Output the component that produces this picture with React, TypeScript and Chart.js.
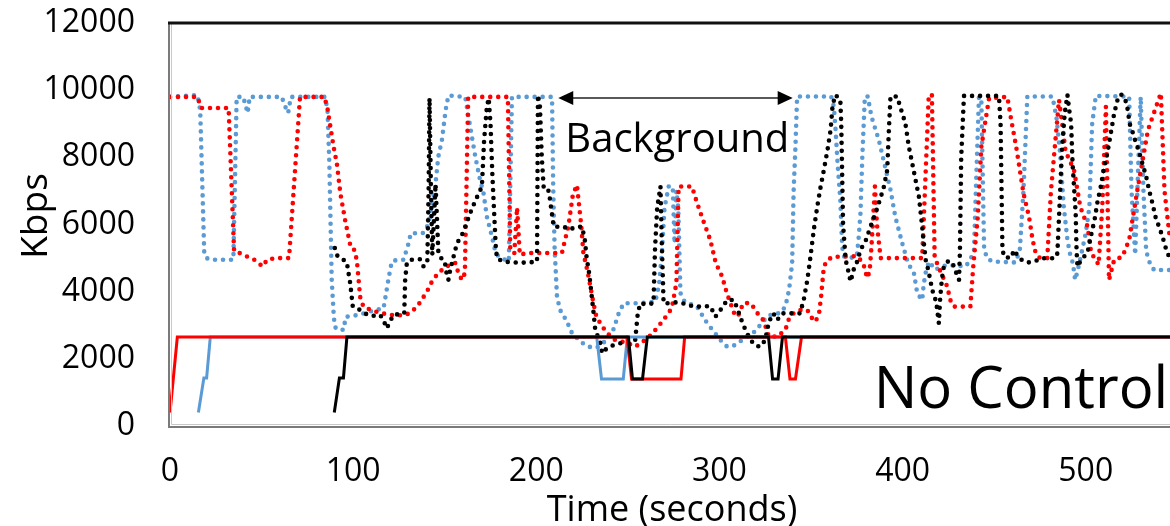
import React, { useEffect, useRef } from "react";
import { Chart, registerables } from "chart.js";

Chart.register(...registerables);

// ---------- data (time in seconds, rate in Kbps) ----------
const xTicksMax = 546;
const yMax = 12000;
const yStep = 2000;
const xStep = 100;

const blueSolid: [number, number][] = [
  [15.5, 400], [18.5, 1430], [20, 1430], [22, 2650], [233, 2650], [235.6, 1400], [247.5, 1400], [249.7, 2650], [546, 2650],
];
const redSolid: [number, number][] = [
  [0, 400], [4, 2650], [249.5, 2650], [252, 1400], [279, 1400], [281, 2650], [336, 2650], [338.5, 1400], [341.5, 1400], [344.8, 2650], [546, 2650],
];
const blackSolid: [number, number][] = [
  [89.7, 400], [92.5, 1430], [94.7, 1430], [96.6, 2650], [250.3, 2650], [252.5, 1400], [258, 1400], [260.6, 2650],
  [326.8, 2650], [329, 1400], [332, 1400], [334.4, 2650], [546, 2650],
];

const blueDotted: [number, number][] = [
  [0, 9800], [15, 9850], [16.5, 9400], [18.7, 5150], [20, 5000], [22, 4950], [34.6, 4950], [36.4, 9800], [40, 9800],
  [41.5, 9500], [42.4, 9320], [43.5, 9800], [61, 9800], [63, 9500], [64.5, 9320], [66, 9800], [84.7, 9800], [86, 9400],
  [87, 7830], [88.3, 4350], [89.5, 3200], [90.5, 2900], [94.7, 2860], [96, 3250], [102, 3300], [106.6, 3365], [112, 3450],
  [116.6, 3505], [118, 3950], [119.5, 4445], [121.1, 4895], [124, 4950], [127.5, 4950], [130, 5390], [131.5, 5740],
  [138, 5740], [141, 6000], [143, 6600], [144.8, 7130], [146.5, 8020], [148.5, 8520], [150.5, 9410], [152, 9840],
  [161.2, 9800], [163, 9200], [164.5, 8720], [166.7, 8020], [169, 7400], [171.2, 6930], [173, 6235], [175.8, 5640],
  [177.6, 5200], [179.4, 5040], [185, 4900], [186.7, 9800], [208.6, 9800], [209.2, 7200], [210, 5300], [211.3, 3850],
  [213, 3455], [216.8, 3105], [219, 2810], [224, 2510], [228.6, 2360], [233, 2330], [237, 2500], [242, 2860],
  [243.5, 3105], [245, 3355], [247.7, 3655], [255, 3655], [261, 3680], [265, 3700], [267, 4200], [268.7, 5240],
  [270, 6500], [272.3, 7130], [274.5, 7130], [275.5, 5440], [276.5, 7000], [277.5, 6500], [278.7, 3960], [281, 3700],
  [287.8, 3555], [290.5, 3305], [293.3, 3060], [297, 2810], [300.5, 2560], [304.2, 2360], [308, 2400], [312.4, 2560],
  [316, 2710], [319, 2800], [322.4, 3010], [326, 3255], [329.7, 3355], [333, 3355], [336, 3555], [338, 4050],
  [339.7, 4845], [340.5, 7000], [341.5, 8320], [342.4, 9810], [361, 9810], [362.5, 9500], [363.4, 8820], [364.5, 7825],
  [366, 6730], [367, 5340], [368, 5050], [370.7, 4995], [375, 5050], [376, 5600], [377, 6335], [378, 8000], [379.4, 9810],
  [381, 9810], [383, 9210], [387, 8520], [390, 7825], [393.4, 7030], [396, 6235], [399.8, 5440], [403, 4845],
  [406.2, 4545], [408, 3950], [410.7, 3750], [411.5, 4200], [412.5, 4545], [414.4, 4895], [418, 4650], [421, 4750],
  [425.3, 4790], [434.4, 4750], [437, 4950], [439, 5240], [440, 7000], [441.7, 9810], [443, 9700], [444.5, 5300],
  [446, 5000], [449, 4895], [461.7, 4870], [464, 5240], [466, 7000], [468.1, 9810], [481.8, 9810], [484, 9200],
  [486, 8120], [488, 6530], [490, 5540], [491.5, 5100], [493, 4845], [494.2, 4350], [495.5, 4600], [497.5, 5100],
  [500, 5740], [502, 6530], [503.5, 9000], [505.5, 9830], [523.7, 9810], [525, 7000], [527, 5100], [528.5, 7500],
  [530, 9800], [531.5, 7000], [533, 5200], [535, 4850], [537.3, 4645], [546, 4645],
];

const redDotted: [number, number][] = [
  [0, 9800], [15, 9800], [17, 9470], [32, 9470], [35, 5200], [38, 5150], [42, 5050], [46, 4950], [50.6, 4750],
  [53, 4950], [58, 5000], [65, 5000], [71, 9800], [84.3, 9800], [86, 9450], [89.3, 8320], [91.1, 7820], [93, 6930],
  [95.6, 6135], [98.4, 5390], [100, 5350], [102, 4950], [103.8, 3850], [105.6, 3550], [110, 3450], [114.8, 3365],
  [122, 3300], [128.4, 3300], [132, 3400], [135.5, 3600], [140.3, 4000], [143, 4300], [146.5, 4560], [151, 4750],
  [155.7, 4860], [157.5, 4550], [159.4, 4350], [161, 4550], [162.8, 9800], [184.5, 9800], [185.8, 5240], [188, 5150],
  [189.5, 6500], [191, 5100], [195, 5150], [214, 5150], [215.5, 5500], [217.5, 5940], [220, 6900], [222.2, 7175],
  [223.5, 6500], [224.5, 6000], [225.7, 5150], [228, 4600], [231.2, 3660], [233, 3200], [235, 3070], [238, 2800],
  [243, 2560], [249.7, 2470], [254, 2360], [261, 2620], [266, 2920], [270, 3200], [274, 3510], [276.5, 4260],
  [277.7, 7130], [285, 7130], [287.8, 6640], [291, 6135], [295, 5540], [298, 4850], [301.5, 4446], [304, 3960],
  [306, 3660], [308, 3365], [310, 3255], [313, 3660], [317, 3660], [319.7, 3455], [322, 3250], [324, 3157],
  [327, 2660], [331.5, 2660], [336, 2860], [338, 3200], [340.6, 3365], [344, 3455], [348, 3455], [350.5, 3215],
  [352.5, 3105], [354.5, 3400], [355.5, 3850], [357, 4745], [359, 4945], [362, 5040], [365, 5040], [375, 5060],
  [378.5, 4850], [380.6, 4410], [382, 4600], [383, 5340], [384.9, 7130], [386, 6000], [388, 5000], [410.7, 5000],
  [414.3, 9860], [416, 9850], [417.5, 5040], [419.5, 4745], [424.4, 4150], [426, 3755], [428, 3555], [437, 3555],
  [438.5, 4700], [441, 6200], [443, 8320], [447.2, 9760], [457.2, 9800], [459, 9210], [462, 8320], [466, 6930],
  [469, 6235], [471, 5540], [472.7, 5145], [475, 5000], [479, 5000], [481, 7000], [485.4, 9710], [487, 9065],
  [489, 8170], [493.6, 7620], [497, 6530], [501, 5935], [503, 5145], [505.5, 4945], [507, 4800], [509, 6500],
  [511, 9510], [512.7, 4350], [515.5, 4945], [520, 5040], [523.7, 5540], [528.2, 7030], [534, 8820], [541, 9910],
  [543, 7000], [546, 5540],
];

const blackDotted: [number, number][] = [
  [90, 5300], [91.5, 5050], [94, 4965], [96.5, 4895], [97.5, 4545], [98.4, 4250], [99, 3950], [99.8, 3555],
  [103.8, 3455], [108, 3305], [111, 3280], [114.8, 3305], [116.5, 3155], [118.4, 2910], [120, 3100], [122, 3305],
  [124.8, 3330], [127.9, 3355], [128.4, 4350], [129.3, 4845], [131, 4950], [134, 4950], [136.6, 4965], [138.5, 4745],
  [140.5, 4900], [141.2, 7000], [141.7, 9760], [142.5, 7000], [143.2, 5100], [145, 7200], [146.5, 5200], [148.5, 4950],
  [150, 4900], [151, 4550], [152, 4350], [153, 4650], [154.8, 5040], [156.7, 5440], [159.5, 5700], [161.2, 5935],
  [163, 6200], [164.9, 6480], [167.5, 6800], [170.3, 7130], [171.5, 8500], [173, 9500], [174, 9760], [175, 9000],
  [176, 7500], [177, 6335], [177.8, 5400], [178.5, 4995], [182, 4895], [190, 4865], [195, 4865], [200.4, 4895],
  [200.9, 9860], [202, 9500], [203, 8000], [204, 7130], [206, 7130], [207, 6930], [208.5, 6335], [209.5, 5935],
  [215, 5935], [218, 5850], [222.2, 5935], [225, 5935], [226.5, 5540], [227.5, 5000], [228.6, 4645], [229.5, 4250],
  [231.3, 3355], [232.2, 2860], [235, 2465], [235.9, 2165], [238.5, 2315], [242.2, 2410], [246, 2465], [250.5, 2465],
  [254, 2560], [255.4, 3355], [256.8, 3655], [260, 3620], [264, 3655], [264.8, 5240], [266, 6500], [267.8, 7130],
  [268.5, 5500], [269.5, 3655], [272.5, 3655], [276, 3680], [280, 3655], [286, 3555], [290.5, 3555], [295, 3570],
  [297.8, 3255], [300.5, 3450], [304.2, 3750], [308, 3750], [310, 3455], [312, 3155], [314.2, 2860], [317, 2560],
  [319.5, 2400], [322.4, 2360], [325, 2560], [327, 3105], [329.5, 3355], [331.5, 3155], [334.3, 3355], [340.6, 3355],
  [344, 3355], [346, 3750], [348, 4350], [349.7, 5040], [351.5, 5835], [353.4, 6530], [355, 7050], [357, 7620],
  [359, 8220], [360.7, 8820], [361.8, 9560], [363.4, 9860], [366, 9700], [366.5, 9000], [367.5, 6000], [368.9, 4945],
  [370, 4700], [371.6, 4300], [373.5, 4700], [375.2, 4895], [377, 5240], [380, 5540], [382.5, 5940], [385.2, 6335],
  [388, 6800], [389.8, 7130], [391.6, 7620], [392.5, 8800], [393.4, 9810], [397, 9810], [399, 9450], [401.5, 9015],
  [403.4, 8320], [406, 7620], [408.9, 6830], [410.5, 6035], [411.5, 5500], [412.6, 4945], [414, 4650], [416.2, 4050],
  [418, 3750], [419, 3455], [419.3, 3255], [419.8, 3060], [420.5, 3800], [421.5, 4400], [422.5, 4745], [424.4, 4895],
  [427, 4895], [429, 4600], [430.8, 4350], [431.3, 5200], [432, 8000], [433.5, 9830], [452.6, 9830], [453.5, 9000],
  [454.5, 5300], [455.3, 5040], [459, 5000], [461, 5240], [463, 5040], [465, 4950], [468.1, 4865], [472, 4900],
  [476, 4995], [483.2, 4995], [484.5, 5140], [485.5, 6335], [487, 8200], [488.5, 9300], [490, 9860], [491, 9400],
  [492, 9015], [492.8, 7820], [494.5, 6335], [495, 5200], [495.5, 4745], [498, 4995], [500.9, 5140], [503, 5700],
  [504.8, 6135], [506.5, 6700], [508.2, 7130], [510, 7700], [511.8, 8120], [513.7, 8720], [515.5, 9300], [517.3, 9700],
  [519.1, 9880], [521, 9800], [522.5, 9560], [524, 9000], [525.5, 8770], [527, 8500], [529.1, 8170], [531, 7800],
  [533, 7425], [534.7, 7000], [536.4, 6635], [538.2, 6200], [540, 5935], [541.9, 5640], [543.7, 5300], [545.5, 5040],
  [546, 5000],
];

// annotation anchors (data units)
const arrowFrom = 212;
const arrowTo = 340;
const arrowLevel = 9770;
const backgroundLabel = "Background";
const backgroundAt: [number, number] = [277, 8170];
const noControlLabel = "No Control";
const noControlAt: [number, number] = [545, 540];
const xTitle = "Time (seconds)";
const yTitle = "Kbps";

const BLUE = "#5B9BD5";
const RED = "#FF0000";
const BLACK = "#000000";
const FONT = "'Open Sans', 'Noto Sans', sans-serif";

const toXY = (arr: [number, number][]) => arr.map(([x, y]) => ({ x, y }));

const overlayPlugin = {
  id: "overlay",
  afterDraw(chart: any) {
    const { ctx, chartArea: a, scales } = chart;
    const xs = scales.x;
    const ys = scales.y;
    ctx.save();
    // frame
    ctx.lineCap = "butt";
    ctx.strokeStyle = "#7a7a7a";
    ctx.lineWidth = 2;
    ctx.beginPath();
    ctx.moveTo(a.left - 1, a.top);
    ctx.lineTo(a.left - 1, a.bottom + 1);
    ctx.lineTo(a.right, a.bottom + 1);
    ctx.stroke();
    ctx.strokeStyle = "#c8c8c8";
    ctx.lineWidth = 1;
    ctx.beginPath();
    ctx.moveTo(a.left + 1.5, a.top);
    ctx.lineTo(a.left + 1.5, a.bottom - 1.5);
    ctx.lineTo(a.right, a.bottom - 1.5);
    ctx.stroke();
    ctx.strokeStyle = "#111";
    ctx.lineWidth = 3;
    ctx.beginPath();
    ctx.moveTo(a.left - 2, a.top);
    ctx.lineTo(a.right, a.top);
    ctx.stroke();

    // arrow
    const ay = ys.getPixelForValue(arrowLevel);
    const ax1 = xs.getPixelForValue(arrowFrom);
    const ax2 = xs.getPixelForValue(arrowTo);
    const head = 15;
    const half = 7;
    ctx.strokeStyle = "#595959";
    ctx.lineWidth = 2;
    ctx.beginPath();
    ctx.moveTo(ax1 + head - 2, ay);
    ctx.lineTo(ax2 - head + 2, ay);
    ctx.stroke();
    ctx.fillStyle = "#000";
    ctx.beginPath();
    ctx.moveTo(ax1, ay);
    ctx.lineTo(ax1 + head, ay - half);
    ctx.lineTo(ax1 + head, ay + half);
    ctx.closePath();
    ctx.fill();
    ctx.beginPath();
    ctx.moveTo(ax2, ay);
    ctx.lineTo(ax2 - head, ay - half);
    ctx.lineTo(ax2 - head, ay + half);
    ctx.closePath();
    ctx.fill();

    // labels
    ctx.fillStyle = "#000";
    ctx.textBaseline = "alphabetic";
    ctx.font = `40px ${FONT}`;
    ctx.textAlign = "center";
    ctx.fillText(backgroundLabel, xs.getPixelForValue(backgroundAt[0]), ys.getPixelForValue(backgroundAt[1]));
    ctx.font = `58px ${FONT}`;
    ctx.textAlign = "right";
    ctx.fillText(noControlLabel, xs.getPixelForValue(noControlAt[0]), ys.getPixelForValue(noControlAt[1]));

    // axis titles
    ctx.font = `36px ${FONT}`;
    ctx.textAlign = "center";
    ctx.fillText(xTitle, (a.left + a.right) / 2 + 2, 521);
    ctx.save();
    ctx.translate(47, 216);
    ctx.rotate(-Math.PI / 2);
    ctx.font = `37px ${FONT}`;
    ctx.textAlign = "center";
    ctx.textBaseline = "alphabetic";
    ctx.fillText(yTitle, 0, 0);
    ctx.restore();
    ctx.restore();
  },
};

export default function App() {
  const ref = useRef<HTMLCanvasElement | null>(null);
  useEffect(() => {
    document.body.style.margin = "0";
    const canvas = ref.current;
    if (!canvas) return;
    const dotted = (data: [number, number][], color: string) => ({
      data: toXY(data),
      borderColor: color,
      backgroundColor: color,
      borderWidth: 4.6,
      borderDash: [0, 8],
      borderCapStyle: "round" as const,
      pointRadius: 0,
      fill: false,
      tension: 0,
    });
    const solid = (data: [number, number][], color: string) => ({
      data: toXY(data),
      borderColor: color,
      backgroundColor: color,
      borderWidth: 3,
      pointRadius: 0,
      fill: false,
      tension: 0,
    });
    const chart = new Chart(canvas, {
      type: "line",
      data: {
        datasets: [
          solid(blackSolid, BLACK),
          solid(redSolid, RED),
          solid(blueSolid, BLUE),
          dotted(blackDotted, BLACK),
          dotted(redDotted, RED),
          dotted(blueDotted, BLUE),
        ] as any,
      },
      options: {
        responsive: false,
        animation: false,
        layout: { padding: { top: 23, left: 0, right: 0, bottom: 0 } },
        plugins: { legend: { display: false }, tooltip: { enabled: false } },
        scales: {
          x: {
            type: "linear",
            min: 0,
            max: xTicksMax,
            grid: { display: false, drawTicks: false },
            border: { display: false },
            ticks: {
              stepSize: xStep,
              includeBounds: false,
              padding: 27,
              color: "#000",
              font: { family: FONT, size: 32 },
              maxRotation: 0,
              callback: (v: any) => String(v),
            },
            afterFit: (s: any) => {
              s.height = 100;
              s.paddingLeft = 0;
              s.paddingRight = 0;
            },
          },
          y: {
            type: "linear",
            min: 0,
            max: yMax,
            grid: { display: false, drawTicks: false },
            border: { display: false },
            ticks: {
              stepSize: yStep,
              padding: 35,
              color: "#000",
              font: { family: FONT, size: 32 },
              callback: (v: any) => String(v),
            },
            afterFit: (s: any) => {
              s.width = 170;
              s.paddingTop = 0;
              s.paddingBottom = 0;
            },
          },
        },
      },
      plugins: [overlayPlugin],
    });
    return () => chart.destroy();
  }, []);
  return <canvas ref={ref} width={1170} height={526} style={{ display: "block" }} />;
}
